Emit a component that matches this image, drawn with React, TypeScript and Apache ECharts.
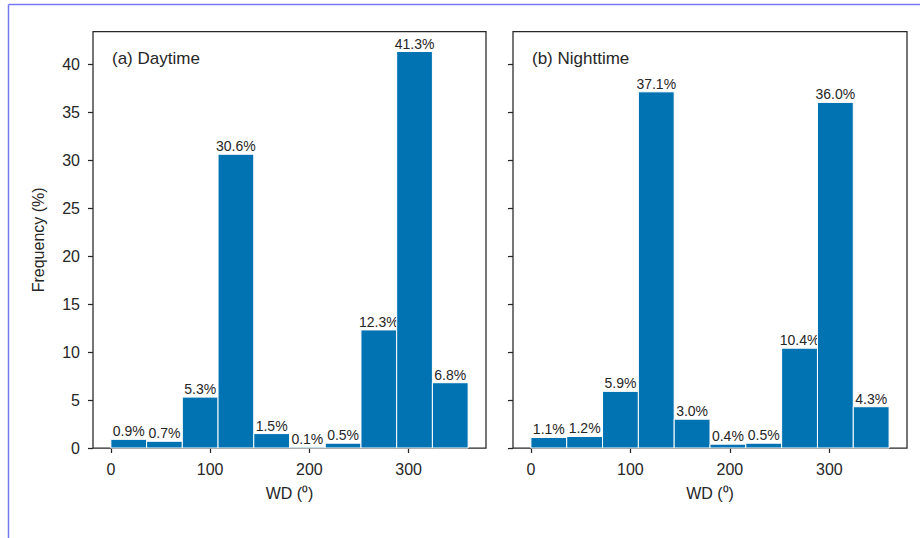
import React, { useEffect, useRef } from "react";
import * as echarts from "echarts";

const binEdges = [0, 36, 72, 108, 144, 180, 216, 252, 288, 324, 360];
const dayFreq = [0.9, 0.7, 5.3, 30.6, 1.5, 0.1, 0.5, 12.3, 41.3, 6.8];
const nightFreq = [1.1, 1.2, 5.9, 37.1, 3.0, 0.4, 0.5, 10.4, 36.0, 4.3];
const xTicks = [0, 100, 200, 300];
const yTicks = [0, 5, 10, 15, 20, 25, 30, 35, 40];
const panelTitles = ["(a) Daytime", "(b) Nighttime"];

const FONT = '"Liberation Sans", Arial, sans-serif';
const TXT = "#262626";
const BAR = "#0173B2";

function binData(freq: number[]) {
  return freq.map((v, i) => [binEdges[i], binEdges[i + 1], v]);
}

const renderBar = (params: any, api: any) => {
  const x0 = api.value(0);
  const x1 = api.value(1);
  const v = api.value(2);
  const p0 = api.coord([x0, v]);
  const p1 = api.coord([x1, 0]);
  return {
    type: "group",
    children: [
      {
        type: "rect",
        shape: { x: p0[0], y: p0[1], width: p1[0] - p0[0], height: p1[1] - p0[1] },
        style: { fill: BAR, stroke: "#ffffff", lineWidth: 1 },
      },
      {
        type: "text",
        style: {
          text: v.toFixed(1) + "%",
          x: (p0[0] + p1[0]) / 2,
          y: p0[1] - 1,
          align: "center",
          verticalAlign: "bottom",
          textAlign: "center",
          textVerticalAlign: "bottom",
          fill: TXT,
          fontSize: 14,
          fontFamily: FONT,
        },
      },
    ],
  };
};

export default function App() {
  const ref = useRef<HTMLDivElement>(null);
  useEffect(() => {
    if (!ref.current) return;
    const chart = echarts.init(ref.current, null, { renderer: "svg" });
    const yMax = Math.max(...dayFreq, ...nightFreq) * 1.05;
    const grids = [
      { left: 93, right: 434, top: 31.7, bottom: 90 },
      { left: 513, right: 13, top: 31.7, bottom: 90 },
    ].map((g) => ({ ...g, show: true, borderColor: TXT, borderWidth: 1.25, backgroundColor: "transparent" }));

    const xAxes = [0, 1].map((i) => ({
      type: "value",
      gridIndex: i,
      min: -18,
      max: 378,
      splitLine: { show: false },
      axisLine: { show: false, onZero: false },
      axisTick: { show: true, length: 5, lineStyle: { color: TXT, width: 1.25 }, customValues: xTicks },
      axisLabel: { show: true, customValues: xTicks, margin: 13, color: TXT, fontSize: 16, fontFamily: FONT },
      name: "WD (⁰)",
      nameLocation: "middle",
      nameGap: 37,
      nameTextStyle: { color: TXT, fontSize: 16, fontFamily: FONT },
    }));

    const yAxes = [0, 1].map((i) => ({
      type: "value",
      gridIndex: i,
      min: 0,
      max: yMax,
      splitLine: { show: false },
      axisLine: { show: false, onZero: false },
      axisTick: { show: true, length: 5, lineStyle: { color: TXT, width: 1.25 }, customValues: yTicks },
      axisLabel: { show: i === 0, customValues: yTicks, margin: 13, color: TXT, fontSize: 16, fontFamily: FONT },
      name: i === 0 ? "Frequency (%)" : "",
      nameLocation: "middle",
      nameGap: 47,
      nameTextStyle: { color: TXT, fontSize: 16, fontFamily: FONT },
    }));

    chart.setOption({
      animation: false,
      backgroundColor: "#ffffff",
      grid: grids,
      xAxis: xAxes,
      yAxis: yAxes,
      series: [
        { type: "custom", xAxisIndex: 0, yAxisIndex: 0, data: binData(dayFreq), renderItem: renderBar, clip: false },
        { type: "custom", xAxisIndex: 1, yAxisIndex: 1, data: binData(nightFreq), renderItem: renderBar, clip: false },
      ],
      graphic: [
        { type: "text", left: 112, top: 50, style: { text: panelTitles[0], fill: TXT, fontSize: 17, fontFamily: FONT } },
        { type: "text", left: 532, top: 50, style: { text: panelTitles[1], fill: TXT, fontSize: 17, fontFamily: FONT } },
        { type: "line", shape: { x1: 8.5, y1: 4.5, x2: 920, y2: 4.5 }, style: { stroke: "#7878f2", lineWidth: 1.5 } },
        { type: "line", shape: { x1: 8.5, y1: 4.5, x2: 8.5, y2: 538 }, style: { stroke: "#7878f2", lineWidth: 1.5 } },
      ],
    });
    return () => chart.dispose();
  }, []);
  return <div ref={ref} style={{ position: "absolute", left: 0, top: 0, width: 920, height: 538 }} />;
}
